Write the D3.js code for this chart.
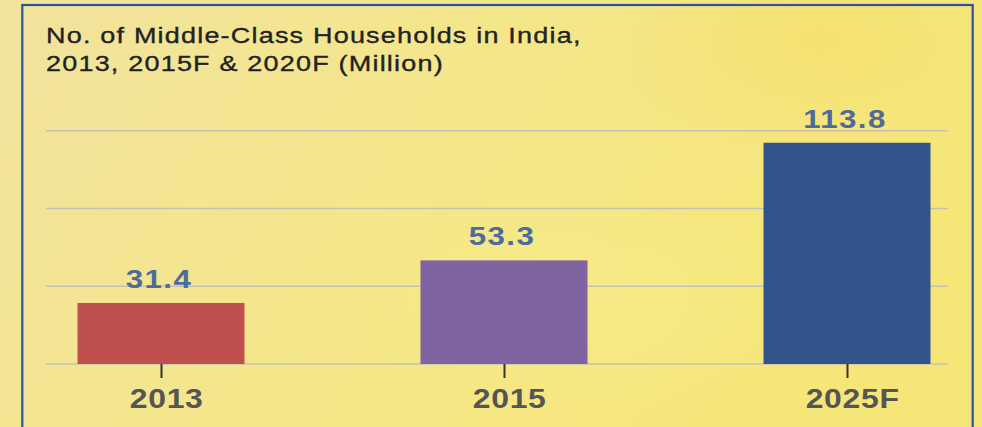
<!DOCTYPE html>
<html>
<head>
<meta charset="utf-8">
<script src="https://cdn.jsdelivr.net/npm/d3@7"></script>
<style>
  body { margin: 0; padding: 0; overflow: hidden; }
  svg { display: block; }
</style>
</head>
<body>
<div id="chart"></div>
<script>
// data
var years = ["2013", "2015", "2025F"];
var households = [31.4, 53.3, 113.8];
var barColors = ["#c0504d", "#8064a2", "#31558b"];
var gridValues = [0, 40, 80, 120];
var titleLines = ["No. of Middle-Class Households in India,", "2013, 2015F & 2020F (Million)"];

var W = 982, H = 427;
var font = "'Liberation Sans', Arial, Helvetica, sans-serif";

var svg = d3.select("#chart")
    .append("svg")
    .attr("width", W)
    .attr("height", H);

// yellow, slightly blotchy background
var defs = svg.append("defs");
var lg = defs.append("linearGradient").attr("id", "bg")
    .attr("x1", "0").attr("y1", "0").attr("x2", "1").attr("y2", "0.3");
lg.append("stop").attr("offset", "0").attr("stop-color", "#f2e39e");
lg.append("stop").attr("offset", "0.45").attr("stop-color", "#f4e68c");
lg.append("stop").attr("offset", "1").attr("stop-color", "#f6e678");

var rg = defs.append("radialGradient").attr("id", "blot");
rg.append("stop").attr("offset", "0").attr("stop-color", "#f5dc60").attr("stop-opacity", 0.45);
rg.append("stop").attr("offset", "1").attr("stop-color", "#f5dc60").attr("stop-opacity", 0);

var rg2 = defs.append("radialGradient").attr("id", "blot2");
rg2.append("stop").attr("offset", "0").attr("stop-color", "#f8ee8c").attr("stop-opacity", 0.6);
rg2.append("stop").attr("offset", "1").attr("stop-color", "#f8ee8c").attr("stop-opacity", 0);

svg.append("rect").attr("width", W).attr("height", H).attr("fill", "url(#bg)");
svg.append("ellipse").attr("cx", 820).attr("cy", 40).attr("rx", 200).attr("ry", 110).attr("fill", "url(#blot)");
svg.append("ellipse").attr("cx", 560).attr("cy", 300).attr("rx", 260).attr("ry", 120).attr("fill", "url(#blot2)");

// frame
svg.append("rect")
    .attr("x", 22.3).attr("y", 5)
    .attr("width", 972.7 - 22.3).attr("height", 440)
    .attr("fill", "none")
    .attr("stroke", "#2c539e")
    .attr("stroke-width", 2.2);

// title (the original type is stretched sideways)
svg.append("g")
    .attr("transform", "translate(46,0) scale(1.2,1)")
    .selectAll("text")
    .data(titleLines)
    .enter()
    .append("text")
    .attr("x", 0)
    .attr("y", function (d, i) { return 43 + i * 28; })
    .attr("font-family", font)
    .attr("font-size", 22.5)
    .attr("letter-spacing", 1)
    .attr("fill", "#222")
    .attr("stroke", "#222")
    .attr("stroke-width", 0.35)
    .text(function (d) { return d; });

// scales
var x = d3.scalePoint().domain(years).range([161, 847]);
var y = d3.scaleLinear().domain([0, 120]).range([364, 130.7]);
var barW = 167;

// gridlines
svg.append("g").selectAll("line")
    .data(gridValues)
    .enter()
    .append("line")
    .attr("x1", 46).attr("x2", 948)
    .attr("y1", function (d) { return y(d); })
    .attr("y2", function (d) { return y(d); })
    .attr("stroke", "#c4c1b4")
    .attr("stroke-width", 1.6);

// bars
var data = years.map(function (d, i) { return {year: d, value: households[i], color: barColors[i]}; });

svg.append("g").selectAll("rect")
    .data(data)
    .enter()
    .append("rect")
    .attr("x", function (d) { return x(d.year) - barW / 2; })
    .attr("y", function (d) { return y(d.value); })
    .attr("width", barW)
    .attr("height", function (d) { return y(0) - y(d.value); })
    .attr("fill", function (d) { return d.color; });

// value labels
svg.append("g").selectAll("text")
    .data(data)
    .enter()
    .append("text")
    .attr("transform", function (d) {
        return "translate(" + (x(d.year) - 2) + "," + (y(d.value) - 15) + ") scale(1.2,1)";
    })
    .attr("text-anchor", "middle")
    .attr("font-family", font)
    .attr("font-weight", "bold")
    .attr("font-size", 26)
    .attr("letter-spacing", 1.2)
    .attr("fill", "#4f6b9c")
    .text(function (d) { return d.value.toFixed(1); });

// x axis: tick marks and category labels
var xAxis = svg.append("g")
    .attr("transform", "translate(0," + y(0) + ")")
    .call(d3.axisBottom(x).tickSize(14).tickPadding(10));
xAxis.select(".domain").remove();
xAxis.selectAll(".tick line").attr("stroke", "#333").attr("stroke-width", 2);
xAxis.selectAll(".tick text")
    .attr("transform", "scale(1.14,1)")
    .attr("x", 4.5)
    .attr("font-family", font)
    .attr("font-weight", "bold")
    .attr("font-size", 28)
    .attr("letter-spacing", 0.6)
    .attr("fill", "#555");
</script>
</body>
</html>
